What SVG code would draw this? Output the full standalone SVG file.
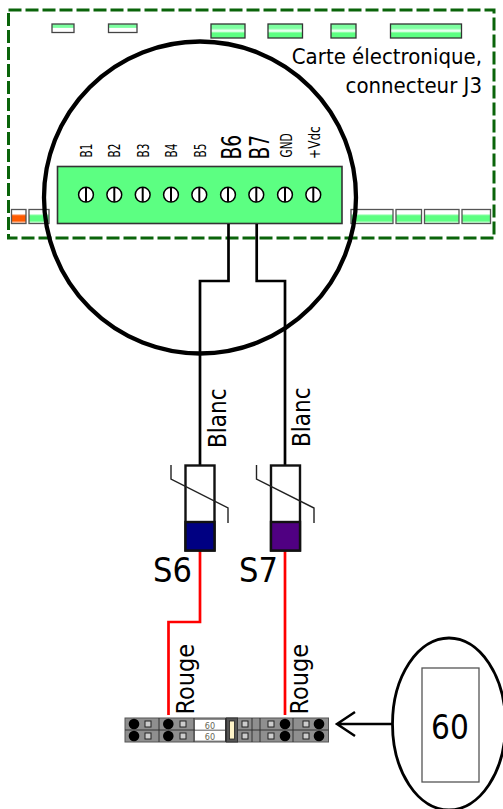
<svg xmlns="http://www.w3.org/2000/svg" xmlns:xlink="http://www.w3.org/1999/xlink" width="503" height="809" viewBox="0 0 503 809">
<style>
text{font-family:"DejaVu Sans Condensed","DejaVu Sans",sans-serif;font-stretch:condensed;fill:#000}
.w{fill:none;stroke:#000;stroke-width:2.7}
.r{fill:none;stroke:#f00;stroke-width:2.7}
.p{stroke:#555;stroke-width:1.3;fill:url(#g)}
.p2{stroke:#333;stroke-width:1.3;fill:url(#g2)}
.t{fill:#fff;stroke:#444;stroke-width:1.3}
.sm{font-size:11.7px}
.bg{font-size:24px}
.lab{font-size:24px}
.sv{fill:#fff;stroke:#000;stroke-width:1.5}
.th{fill:none;stroke:#222;stroke-width:1.4}
.b{fill:#000}
.q{fill:#ccc;stroke:#222;stroke-width:1}
.sep{stroke:#333;stroke-width:1;fill:none}
.body{fill:#fff;stroke:#111;stroke-width:2.4}
</style>
<defs>
<linearGradient id="g" x1="0" y1="0" x2="0" y2="1">
<stop offset="0" stop-color="#fff"/><stop offset=".3" stop-color="#fff"/><stop offset=".45" stop-color="#5dff82"/><stop offset=".8" stop-color="#5dff82"/><stop offset="1" stop-color="#fff"/>
</linearGradient>
<linearGradient id="o" x1="0" y1="0" x2="0" y2="1">
<stop offset="0" stop-color="#fff"/><stop offset=".3" stop-color="#fff"/><stop offset=".45" stop-color="#ff5a00"/><stop offset=".8" stop-color="#ff5a00"/><stop offset="1" stop-color="#fff"/>
</linearGradient>
<linearGradient id="g2" x1="0" y1="0" x2="0" y2="1">
<stop offset="0" stop-color="#7dffa0"/><stop offset=".3" stop-color="#7dffa0"/><stop offset=".5" stop-color="#fff"/><stop offset=".65" stop-color="#5dff82"/><stop offset="1" stop-color="#5dff82"/>
</linearGradient>
<linearGradient id="g3" x1="0" y1="0" x2="0" y2="1">
<stop offset="0" stop-color="#7dffa0"/><stop offset=".4" stop-color="#7dffa0"/><stop offset=".5" stop-color="#fff"/><stop offset="1" stop-color="#fff"/>
</linearGradient>
<g id="screw"><circle r="7.400" class="sv"/><line x1="0" y1="-7" x2="0" y2="7" stroke="#000" stroke-width="2"/></g>
<g id="pair"><circle cx="0" cy="0" r="5.300" class="b"/><circle cx="0" cy="12" r="5.300" class="b"/></g>
<g id="sq"><rect x="-3" y="-3" width="6" height="6" class="q"/><rect x="-3" y="9" width="6" height="6" class="q"/></g>
</defs>

<g id="board">
<rect x="8.500" y="10" width="485.500" height="228" fill="none" stroke="#0a640a" stroke-width="3" stroke-dasharray="13 4"/>
<g id="board-parts">
<rect x="52" y="24" width="22" height="8.500" style="fill:url(#g3)" class="t"/>
<rect x="108.500" y="24" width="28.500" height="8.500" style="fill:url(#g3)" class="t"/>
<rect x="211" y="24" width="34" height="14" class="p2"/>
<rect x="268" y="24" width="34.500" height="14" class="p2"/>
<rect x="331" y="24" width="25" height="14" class="p2"/>
<rect x="390.500" y="24" width="71" height="14" class="p2"/>
<rect x="11.500" y="209.500" width="14.500" height="14" stroke="#555" stroke-width="1.3" fill="url(#o)"/>
<rect x="29" y="209.500" width="20" height="14" class="p"/>
<rect x="351" y="209.500" width="42" height="14" class="p"/>
<rect x="396" y="209.500" width="25.500" height="14" class="p"/>
<rect x="424.500" y="209.500" width="34.500" height="14" class="p"/>
<rect x="462" y="209.500" width="28.500" height="14" class="p"/>
</g>
<text x="482" y="63.500" text-anchor="end" font-size="22">Carte électronique,</text>
<text x="482" y="92.500" text-anchor="end" font-size="22">connecteur J3</text>
</g>

<g id="zoom-circle">
<circle cx="200" cy="197.500" r="156" fill="none" stroke="#000" stroke-width="4.300"/>
</g>

<g id="connector-j3">
<rect x="57.500" y="166.500" width="284.500" height="57" fill="#5cff82" stroke="#333" stroke-width="1.600"/>
<use xlink:href="#screw" x="86" y="194.700"/>
<use xlink:href="#screw" x="114.300" y="194.700"/>
<use xlink:href="#screw" x="142.700" y="194.700"/>
<use xlink:href="#screw" x="171" y="194.700"/>
<use xlink:href="#screw" x="199.300" y="194.700"/>
<use xlink:href="#screw" x="228" y="194.700"/>
<use xlink:href="#screw" x="256.300" y="194.700"/>
<use xlink:href="#screw" x="285" y="194.700"/>
<use xlink:href="#screw" x="313.300" y="194.700"/>
<text class="sm" transform="translate(91.500,157.500) rotate(-90) scale(1,1.3)">B1</text>
<text class="sm" transform="translate(120,157.500) rotate(-90) scale(1,1.3)">B2</text>
<text class="sm" transform="translate(148.500,157.500) rotate(-90) scale(1,1.3)">B3</text>
<text class="sm" transform="translate(177,157.500) rotate(-90) scale(1,1.3)">B4</text>
<text class="sm" transform="translate(206,157.500) rotate(-90) scale(1,1.3)">B5</text>
<text class="bg" transform="translate(240.500,159.500) rotate(-90) scale(.86,1.13)">B6</text>
<text class="bg" transform="translate(269,159.500) rotate(-90) scale(.86,1.13)">B7</text>
<text class="sm" transform="translate(291.500,157.500) rotate(-90) scale(1,1.3)">GND</text>
<text class="sm" transform="translate(320,159) rotate(-90) scale(1.15,1.3)">+Vdc</text>
</g>

<g id="connectors">
<path class="w" d="M228.500 224V281H200V465"/>
<path class="w" d="M256.700 224V281H285V465"/>
<path class="r" d="M200 551V622H168.500V715"/>
<path class="r" d="M285 551V715"/>
<path d="M392 724H337M355 712L337 724L355 736" fill="none" stroke="#000" stroke-width="2.500"/>
</g>

<g id="label-blanc">
<text class="lab" transform="translate(225.500,448) rotate(-90)">Blanc</text>
<text class="lab" transform="translate(310,447) rotate(-90)">Blanc</text>
</g>

<g id="sensor-s6">
<rect x="185.500" y="465.500" width="29" height="85" class="body"/>
<rect x="185.500" y="522" width="29" height="28.500" fill="#000082" stroke="#111" stroke-width="2.400"/>
<path class="th" d="M171 465V479L228 508V523"/>
<text x="153" y="582" font-size="34">S6</text>
</g>

<g id="sensor-s7">
<rect x="271" y="465.500" width="29" height="85" class="body"/>
<rect x="271" y="522" width="29" height="28.500" fill="#500082" stroke="#111" stroke-width="2.400"/>
<path class="th" d="M256.500 465V479L314 508V523"/>
<text x="239" y="582" font-size="34">S7</text>
</g>

<g id="label-rouge">
<text class="lab" style="font-size:25px" transform="translate(194,714.500) rotate(-90)">Rouge</text>
<text class="lab" style="font-size:25px" transform="translate(307.500,714.500) rotate(-90)">Rouge</text>
</g>

<g id="terminal-block">
<rect x="125" y="718" width="203.500" height="24" fill="#8f8f8f" stroke="#555"/>
<path class="sep" d="M125 730H195M226 730H328.500M159 718V742M194 718V742M225.500 718V742M237 718V742M252 718V742M260 718V742M293 718V742"/>
<rect x="195" y="720" width="30" height="9.500" fill="#fff"/>
<rect x="195" y="731" width="30" height="9.500" fill="#fff"/>
<text x="210" y="728.500" text-anchor="middle" font-size="9" style="fill:#665">60</text>
<text x="210" y="739.500" text-anchor="middle" font-size="9" style="fill:#665">60</text>
<rect x="226.500" y="718" width="11" height="24" fill="#555" stroke="#333"/>
<rect x="229.500" y="721" width="5" height="18" fill="#fff4c8" stroke="#222" stroke-width=".8"/>
<use xlink:href="#pair" x="134" y="724"/>
<use xlink:href="#pair" x="168.300" y="724"/>
<use xlink:href="#pair" x="285" y="724"/>
<use xlink:href="#pair" x="319" y="724"/>
<use xlink:href="#sq" x="148" y="724"/>
<use xlink:href="#sq" x="183" y="724"/>
<use xlink:href="#sq" x="245" y="724"/>
<use xlink:href="#sq" x="271" y="724"/>
<use xlink:href="#sq" x="306" y="724"/>
</g>

<g id="detail-60">
<ellipse cx="449" cy="724" rx="56.500" ry="86" fill="#fff" stroke="#000" stroke-width="2.800"/>
<rect x="422" y="668" width="57" height="114" fill="#fff" stroke="#555" stroke-width="1.300"/>
<text x="450" y="739" text-anchor="middle" font-size="33">60</text>
</g>
</svg>
